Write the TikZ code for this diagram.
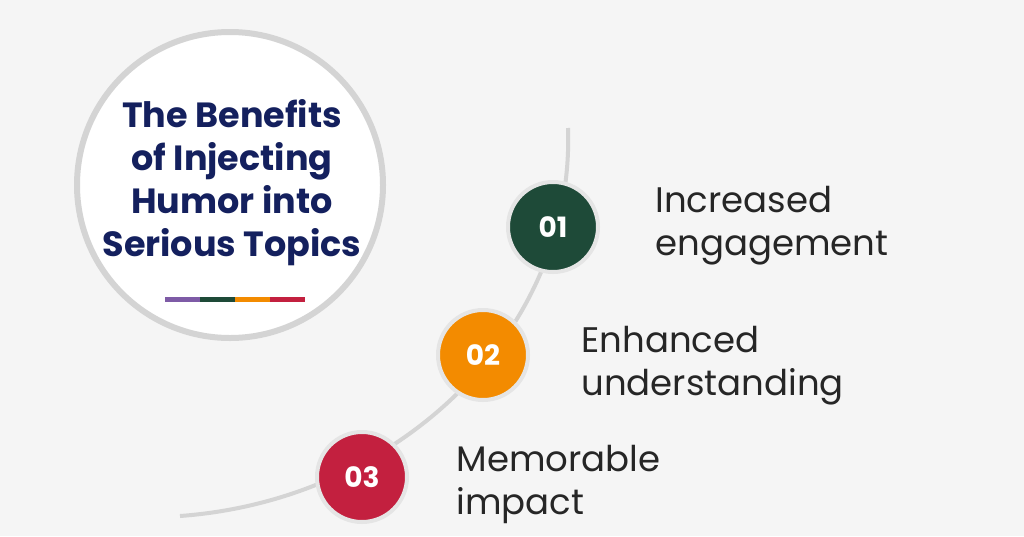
\documentclass[tikz,border=0pt]{standalone}
\usepackage{fontspec}
\setmainfont{Poppins}
\usetikzlibrary{positioning}
\definecolor{navy}{HTML}{14205E}
\definecolor{stepgreen}{HTML}{1E4A38}
\definecolor{steporange}{HTML}{F38B00}
\definecolor{stepred}{HTML}{C3203F}
\definecolor{barpurple}{HTML}{7E5BA6}
\definecolor{ringgray}{HTML}{D4D4D4}
\tikzset{
  badge/.style={circle, minimum size=90pt, line width=4pt, draw=ringgray!60,
    text=white, font=\bfseries\fontsize{28}{30}\selectfont},
  label/.style={anchor=west, align=left, text=black!85,
    font=\fontsize{35.5}{43}\selectfont}
}
\begin{document}
\begin{tikzpicture}[x=1pt, y=-1pt]
%%
  \fill[black!4] (0,0) rectangle (1024,536);
  \useasboundingbox (0,0) rectangle (1024,536);
  \draw[ringgray, line width=4pt] (568,128) .. controls (575,330) and (400,500) .. (180,516);
  \node (main) at (230,185) [circle, minimum size=306pt, fill=white, draw=ringgray, line width=6pt] {};
  \node (title) at (232,183) [align=center, text=navy, font=\bfseries\fontsize{35}{43}\selectfont]
    {The Benefits\\of Injecting\\Humor into\\Serious Topics};
  \foreach \c [count=\i from 0] in {barpurple, stepgreen, steporange, stepred}
    \fill[\c] (165+35*\i,297) rectangle (200+35*\i,302);
  \node (s1) at (553,227) [badge, fill=stepgreen] {01};
  \node (s2) at (483,355) [badge, fill=steporange] {02};
  \node (s3) at (362,477) [badge, fill=stepred] {03};
  \node (t1) at (652,226) [label] {Increased\\engagement};
  \node (t2) at (578,366) [label] {Enhanced\\understanding};
  \node (t3) at (453,484) [label] {Memorable\\impact};
%
\end{tikzpicture}
\end{document}
